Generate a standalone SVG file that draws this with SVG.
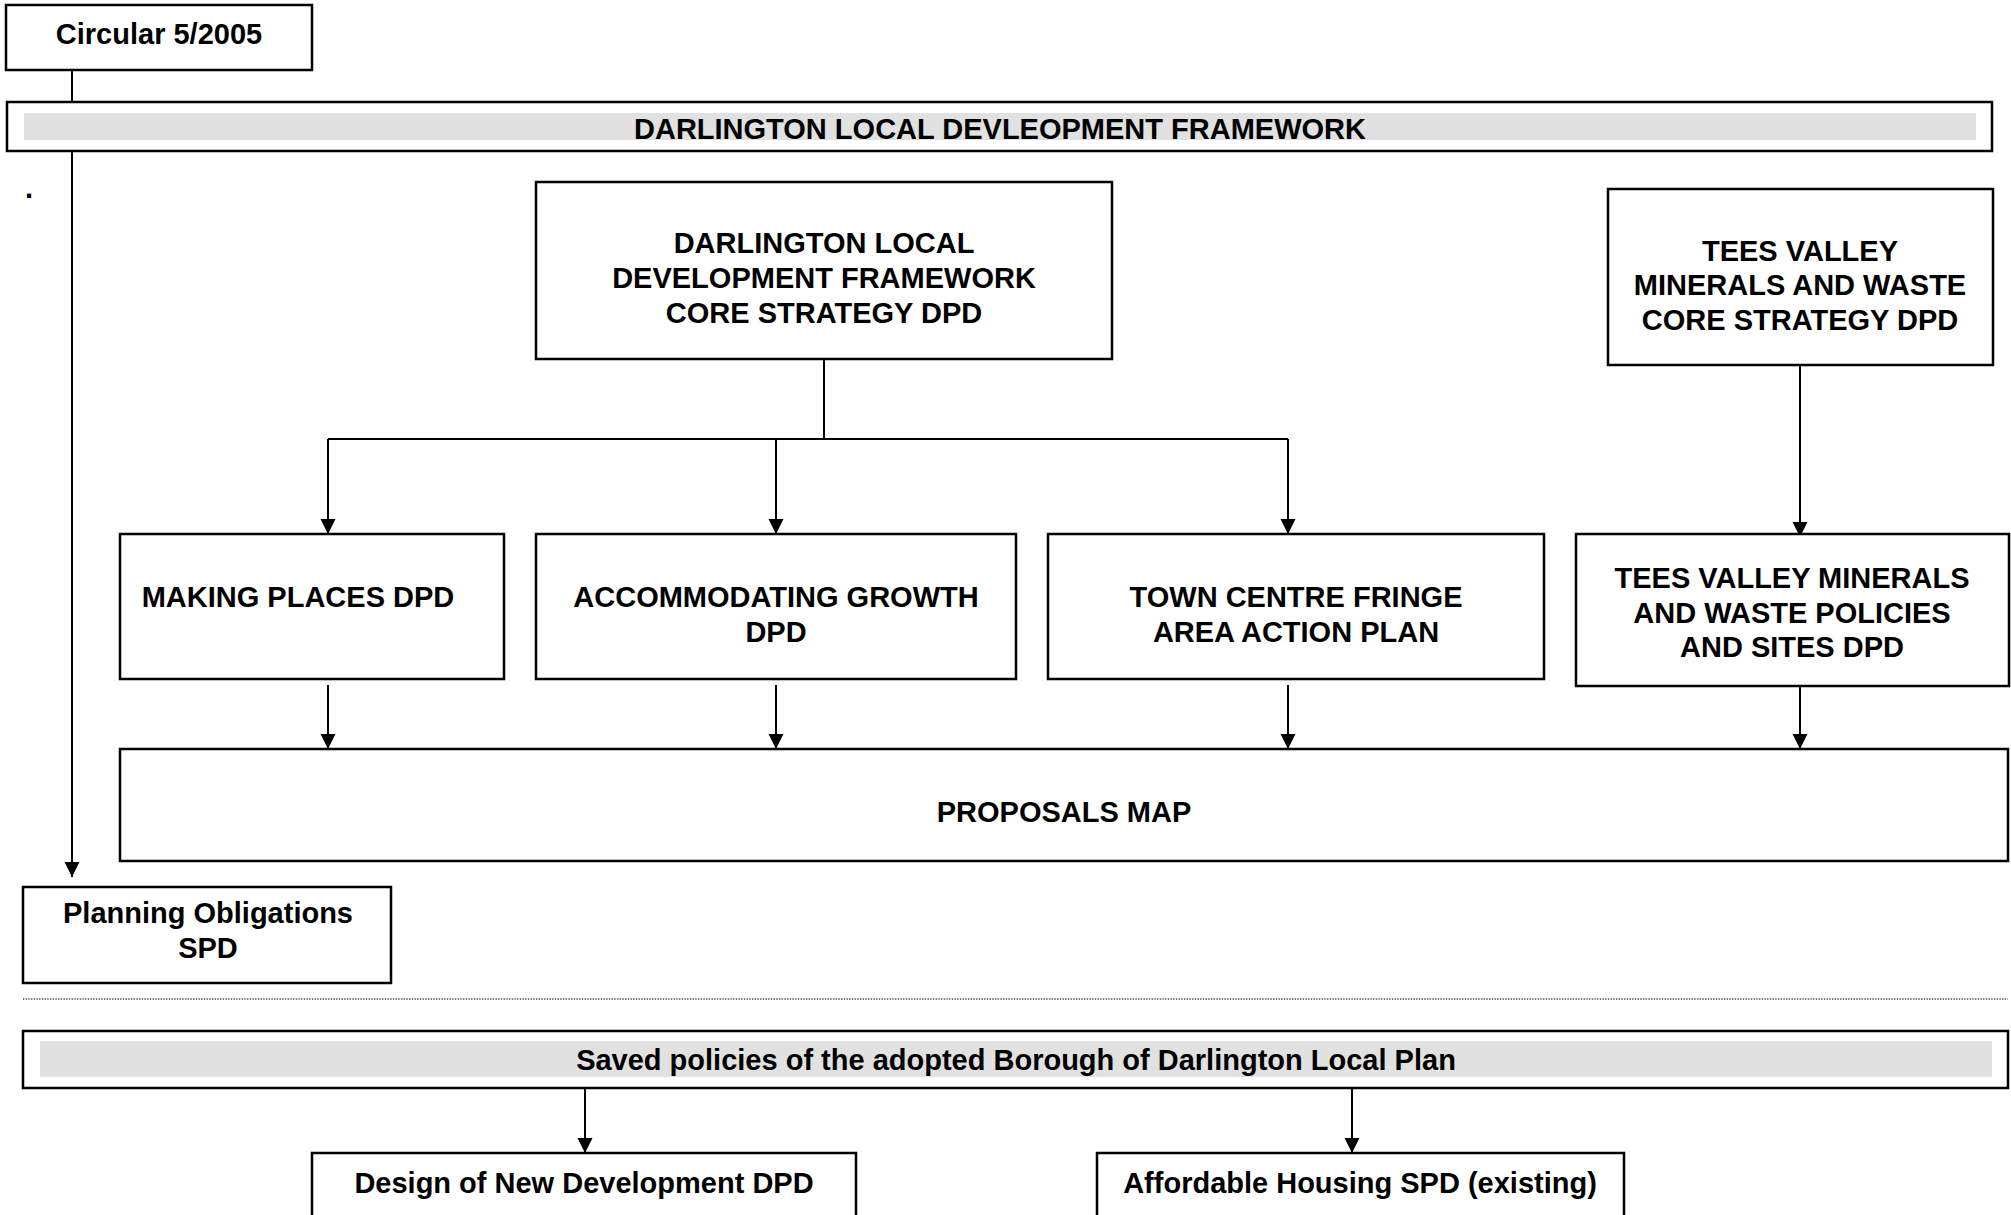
<svg xmlns="http://www.w3.org/2000/svg" width="2011" height="1215" viewBox="0 0 2011 1215">
<style>
.box{fill:#fff;stroke:#000;stroke-width:2.5}
.band{fill:#e1e1e1;stroke:none}
.t{font-family:"Liberation Sans",Arial,sans-serif;font-weight:bold;font-size:29px;fill:#000;text-anchor:middle}
.c{fill:none;stroke:#000;stroke-width:2}
.dot{fill:none;stroke:#444;stroke-width:1.5;stroke-dasharray:1.3 1.4}
</style>
<defs>
<marker id="ah" markerUnits="userSpaceOnUse" markerWidth="15" markerHeight="16" refX="15" refY="7.5" orient="auto">
<path d="M0,0 L15,7.5 L0,15 z" fill="#000"/>
</marker>
</defs>
<rect width="2011" height="1215" fill="#fff"/>

<g id="connectors">
<line class="c" x1="72" y1="70" x2="72" y2="102"/>
<line class="c" x1="72" y1="151" x2="72" y2="877" marker-end="url(#ah)"/>
<polyline class="c" points="824,359 824,439"/>
<polyline class="c" points="328,439 1288,439"/>
<line class="c" x1="328" y1="439" x2="328" y2="534" marker-end="url(#ah)"/>
<line class="c" x1="776" y1="439" x2="776" y2="534" marker-end="url(#ah)"/>
<line class="c" x1="1288" y1="439" x2="1288" y2="534" marker-end="url(#ah)"/>
<line class="c" x1="1800" y1="365" x2="1800" y2="537" marker-end="url(#ah)"/>
<line class="c" x1="328" y1="685" x2="328" y2="749" marker-end="url(#ah)"/>
<line class="c" x1="776" y1="685" x2="776" y2="749" marker-end="url(#ah)"/>
<line class="c" x1="1288" y1="685" x2="1288" y2="749" marker-end="url(#ah)"/>
<line class="c" x1="1800" y1="686" x2="1800" y2="749" marker-end="url(#ah)"/>
<line class="c" x1="585" y1="1088" x2="585" y2="1153" marker-end="url(#ah)"/>
<line class="c" x1="1352" y1="1088" x2="1352" y2="1153" marker-end="url(#ah)"/>
</g>

<g id="circular">
<rect class="box" x="6" y="5" width="306" height="65"/>
<text class="t" x="159" y="44">Circular 5/2005</text>
</g>

<g id="framework">
<rect class="box" x="7" y="102" width="1985" height="49"/>
<rect class="band" x="24" y="113" width="1952" height="27"/>
<text class="t" x="1000" y="139">DARLINGTON LOCAL DEVLEOPMENT FRAMEWORK</text>
</g>

<text class="t" x="29" y="198" style="text-anchor:middle">.</text>

<g id="core">
<rect class="box" x="536" y="182" width="576" height="177"/>
<text class="t" x="824" y="253">DARLINGTON LOCAL</text>
<text class="t" x="824" y="288">DEVELOPMENT FRAMEWORK</text>
<text class="t" x="824" y="323">CORE STRATEGY DPD</text>
</g>

<g id="tees-core">
<rect class="box" x="1608" y="189" width="385" height="176"/>
<text class="t" x="1800" y="261">TEES VALLEY</text>
<text class="t" x="1800" y="295">MINERALS AND WASTE</text>
<text class="t" x="1800" y="330">CORE STRATEGY DPD</text>
</g>

<g id="making-places">
<rect class="box" x="120" y="534" width="384" height="145"/>
<text class="t" x="298" y="607">MAKING PLACES DPD</text>
</g>

<g id="accommodating">
<rect class="box" x="536" y="534" width="480" height="145"/>
<text class="t" x="776" y="607">ACCOMMODATING GROWTH</text>
<text class="t" x="776" y="642">DPD</text>
</g>

<g id="town-centre">
<rect class="box" x="1048" y="534" width="496" height="145"/>
<text class="t" x="1296" y="607">TOWN CENTRE FRINGE</text>
<text class="t" x="1296" y="642">AREA ACTION PLAN</text>
</g>

<g id="tees-policies">
<rect class="box" x="1576" y="534" width="433" height="152"/>
<text class="t" x="1792" y="588">TEES VALLEY MINERALS</text>
<text class="t" x="1792" y="623">AND WASTE POLICIES</text>
<text class="t" x="1792" y="657">AND SITES DPD</text>
</g>

<g id="proposals">
<rect class="box" x="120" y="749" width="1888" height="112"/>
<text class="t" x="1064" y="822">PROPOSALS MAP</text>
</g>

<g id="planning-obligations">
<rect class="box" x="23" y="887" width="368" height="96"/>
<text class="t" x="208" y="923">Planning Obligations</text>
<text class="t" x="208" y="958">SPD</text>
</g>

<line class="dot" x1="23" y1="999" x2="2008" y2="999"/>

<g id="saved-policies">
<rect class="box" x="23" y="1031" width="1985" height="57"/>
<rect class="band" x="40" y="1041" width="1952" height="36"/>
<text class="t" x="1016" y="1070">Saved policies of the adopted Borough of Darlington Local Plan</text>
</g>

<g id="design">
<rect class="box" x="312" y="1153" width="544" height="90"/>
<text class="t" x="584" y="1193">Design of New Development DPD</text>
</g>

<g id="affordable">
<rect class="box" x="1097" y="1153" width="527" height="90"/>
<text class="t" x="1360" y="1193">Affordable Housing SPD (existing)</text>
</g>
</svg>
